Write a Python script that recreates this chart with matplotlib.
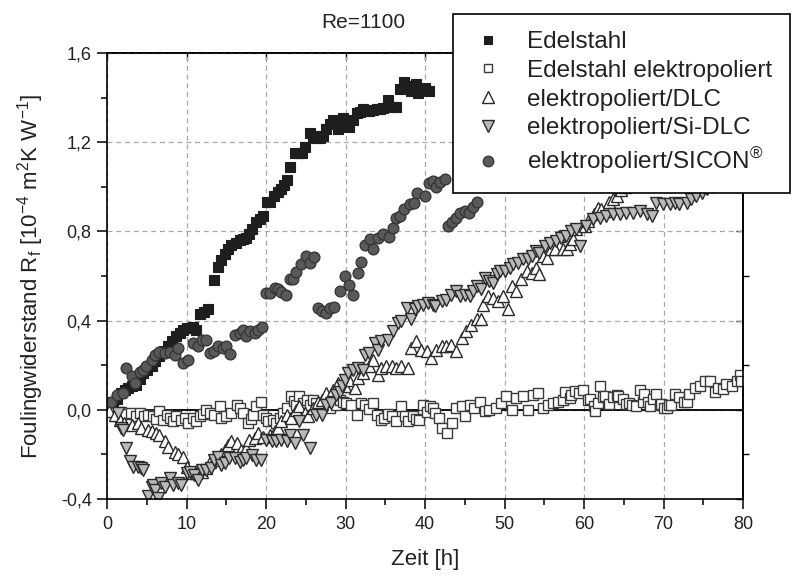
import matplotlib
matplotlib.use("Agg")
import matplotlib.pyplot as plt
from matplotlib.ticker import MultipleLocator, FixedLocator, FuncFormatter
from matplotlib.lines import Line2D

plt.rcParams['font.family'] = ['Liberation Sans', 'DejaVu Sans']
plt.rcParams['mathtext.default'] = 'regular'

# --- Edelstahl (stainless steel) ---
es_t = [0.3, 0.8, 1.3, 1.8, 2.3, 2.7, 3.2, 3.7, 4.1, 4.5, 5.0, 5.6, 6.1, 6.6, 7.2, 7.7,
        8.2, 8.7, 9.2, 9.6, 10.0, 10.4, 10.8, 11.2, 11.7, 12.2, 12.7, 13.5, 14.0, 14.4,
        14.8, 15.2, 15.6, 16.2, 16.7, 17.1, 17.5, 17.9, 18.2, 18.8, 19.2, 19.6, 20.1,
        20.5, 21.0, 21.5, 21.9, 22.3, 22.6, 23.0, 23.6, 24.1, 24.5, 24.9, 25.5, 25.9,
        26.3, 26.8, 27.2, 27.6, 28.0, 28.4, 29.1, 29.7, 30.1, 30.5, 31.0, 31.4, 31.8,
        32.2, 32.6, 33.0, 33.5, 33.9, 34.3, 34.7, 35.3, 35.8, 36.4, 36.8, 37.4, 37.9,
        38.3, 38.9, 39.1, 39.6, 40.0, 40.5]
es_r = [0.02, 0.035, 0.05, 0.075, 0.09, 0.098, 0.105, 0.11, 0.14, 0.165, 0.18, 0.195,
        0.22, 0.24, 0.265, 0.285, 0.31, 0.33, 0.345, 0.36, 0.365, 0.367, 0.37, 0.36,
        0.43, 0.44, 0.45, 0.58, 0.64, 0.67, 0.70, 0.72, 0.74, 0.75, 0.76, 0.765, 0.77,
        0.79, 0.81, 0.84, 0.855, 0.87, 0.93, 0.93, 0.96, 0.975, 0.99, 1.01, 1.03, 1.09,
        1.15, 1.15, 1.15, 1.18, 1.24, 1.23, 1.22, 1.22, 1.23, 1.26, 1.28, 1.30, 1.26,
        1.31, 1.29, 1.27, 1.30, 1.33, 1.335, 1.35, 1.34, 1.34, 1.345, 1.35, 1.35, 1.355,
        1.39, 1.36, 1.36, 1.44, 1.47, 1.45, 1.43, 1.46, 1.42, 1.44, 1.445, 1.43]

# --- Edelstahl elektropoliert ---
ep_t = [0.3, 0.8, 1.3, 1.8, 2.3, 3.06, 3.6, 4.1, 4.6, 5.2, 5.8, 6.2, 6.6, 7.0, 7.5, 7.9,
        8.3, 8.7, 9.35, 9.8, 10.2, 10.8, 11.2, 11.65, 12.1, 12.5, 12.9, 13.5, 14.2, 14.4,
        15.0, 15.6, 16.3, 16.7, 17.1, 17.7, 18.1, 18.4, 18.8, 19.4, 19.6, 20.0, 20.25,
        20.9, 21.3, 21.7, 22.1, 22.6, 23.2, 23.5, 23.8, 24.2, 24.7, 25.1, 25.5, 25.9,
        26.3, 27.0, 27.6, 28.0, 28.4, 28.8, 29.3, 29.7, 30.1, 30.7, 31.4, 32.0, 32.5,
        33.0, 33.5, 33.9, 34.5, 34.9, 35.4, 35.8, 36.4, 37.0, 37.5, 37.9, 38.5, 38.9,
        39.3, 39.7, 40.2, 40.6, 41.0, 41.2, 41.8, 42.2, 42.8, 43.4, 43.9, 44.6, 45.0,
        45.6, 46.2, 46.9, 47.5, 48.1, 48.9, 49.6, 50.2, 50.9, 51.5, 52.3, 53.0, 53.6,
        54.2, 54.8, 55.5, 56.1, 56.7, 57.4, 57.6, 58.2, 58.4, 58.9, 59.4, 59.9, 60.5,
        60.7, 61.3, 61.4, 61.8, 62.0, 62.4, 62.6, 63.2, 63.6, 64.1, 64.3, 64.9, 65.3,
        65.7, 66.1, 66.6, 67.0, 67.4, 67.6, 68.0, 68.3, 68.7, 69.0, 69.5, 69.7, 70.1,
        70.4, 70.7, 71.0, 71.4, 72.0, 72.6, 72.9, 73.2, 73.9, 74.6, 75.2, 75.8, 76.5,
        76.9, 77.5, 77.9, 78.6, 79.2, 79.6, 79.8]
ep_r = [0.0, -0.01, -0.03, -0.01, -0.02, -0.015, -0.03, -0.015, -0.03, -0.022, -0.03,
        -0.04, -0.007, -0.045, -0.025, -0.037, -0.05, -0.03, -0.045, -0.035, -0.06,
        -0.037, -0.05, -0.03, -0.02, 0.0, -0.015, -0.022, 0.015, -0.037, -0.03, -0.015,
        0.022, 0.01, -0.015, -0.06, -0.04, -0.022, 0.015, 0.037, -0.022, -0.037, -0.052,
        -0.045, -0.06, -0.037, -0.015, 0.007, 0.06, 0.04, 0.022, 0.06, 0.03, 0.045, 0.02,
        0.045, 0.03, 0.015, 0.022, 0.01, 0.037, 0.02, 0.045, 0.035, 0.03, 0.022, -0.022,
        0.03, 0.02, 0.005, 0.03, -0.022, -0.045, -0.037, -0.02, -0.03, -0.052, 0.015,
        -0.03, -0.052, -0.03, -0.04, -0.045, 0.022, -0.01, 0.015, 0.007, -0.015, -0.037,
        -0.082, -0.105, -0.06, 0.007, 0.015, -0.03, 0.022, 0.01, 0.037, -0.007, 0.0,
        0.007, 0.03, 0.06, 0.0, 0.052, 0.06, 0.0, 0.067, 0.075, 0.007, 0.022, 0.03,
        0.037, 0.045, 0.08, 0.052, 0.065, 0.085, 0.075, 0.087, 0.045, 0.05, 0.015,
        -0.007, 0.03, 0.105, 0.057, 0.06, 0.027, 0.057, 0.067, 0.064, 0.05, 0.027, 0.03,
        0.02, 0.015, 0.087, 0.037, 0.072, 0.034, 0.015, 0.05, 0.072, 0.022, 0.027, 0.01,
        0.007, 0.02, 0.022, 0.072, 0.057, 0.035, 0.037, 0.072, 0.1, 0.107, 0.13, 0.13,
        0.08, 0.1, 0.094, 0.117, 0.107, 0.13, 0.155, 0.13]

# --- elektropoliert/DLC ---
dl_t = [0.3, 1.0, 1.6, 2.2, 3.1, 3.9, 4.3, 5.2, 5.6, 6.2, 6.6, 7.3, 7.7, 8.5, 8.9, 9.6,
        10.0, 10.6, 11.2, 11.9, 12.5, 12.9, 13.5, 14.4, 14.8, 15.2, 15.6, 16.3, 16.9,
        17.5, 17.9, 18.6, 19.0, 19.6, 20.5, 21.1, 21.5, 21.9, 22.6, 23.2, 23.8, 24.2,
        24.9, 25.3, 25.9, 26.5, 27.0, 27.6, 28.4, 29.1, 29.9, 30.5, 31.2, 31.6, 32.2,
        33.0, 33.5, 34.1, 34.5, 35.1, 35.8, 36.4, 37.0, 37.9, 38.3, 38.9, 39.5, 40.2,
        40.8, 41.4, 42.1, 42.7, 43.3, 43.9, 44.6, 45.2, 45.8, 46.5, 47.1, 47.3, 47.9,
        48.6, 49.2, 49.8, 50.4, 50.9, 51.5, 52.1, 52.8, 53.4, 54.0, 54.4, 54.8, 55.3,
        55.9, 56.3, 56.9, 57.4, 57.8, 58.2, 58.6, 59.0, 60.1, 60.5, 61.3, 61.8, 62.2,
        62.8, 63.2, 63.6, 64.1, 64.6, 65.2]
dl_r = [-0.007, -0.022, -0.045, -0.06, -0.067, -0.06, -0.082, -0.09, -0.097, -0.105,
        -0.112, -0.142, -0.165, -0.187, -0.2, -0.21, -0.255, -0.285, -0.285, -0.277,
        -0.262, -0.232, -0.225, -0.2, -0.18, -0.157, -0.142, -0.15, -0.18, -0.172,
        -0.135, -0.127, -0.105, -0.12, -0.112, -0.097, -0.082, -0.052, -0.022, -0.037,
        0.0, 0.015, -0.015, -0.03, 0.007, 0.037, 0.045, 0.075, 0.09, 0.12, 0.105, 0.135,
        0.097, 0.142, 0.165, 0.195, 0.225, 0.157, 0.187, 0.195, 0.195, 0.187, 0.195,
        0.187, 0.277, 0.307, 0.27, 0.262, 0.232, 0.27, 0.285, 0.285, 0.292, 0.262,
        0.322, 0.352, 0.382, 0.405, 0.405, 0.472, 0.51, 0.502, 0.487, 0.51, 0.45, 0.555,
        0.532, 0.585, 0.622, 0.615, 0.637, 0.607, 0.69, 0.682, 0.72, 0.72, 0.78, 0.72,
        0.72, 0.742, 0.764, 0.81, 0.825, 0.846, 0.876, 0.906, 0.9, 0.89, 0.93, 0.944,
        0.96, 0.985, 1.0]

# --- elektropoliert/Si-DLC ---
sd_t = [1.4, 1.8, 2.0, 2.4, 2.85, 3.3, 3.9, 4.3, 4.5, 5.2, 5.6, 5.8, 6.0, 6.4, 6.8, 7.3,
        7.9, 8.3, 8.9, 9.35, 10.0, 10.4, 11.0, 11.4, 11.9, 12.5, 13.1, 13.5, 14.0, 14.4,
        14.8, 15.4, 16.1, 16.7, 17.1, 17.5, 18.2, 18.8, 19.4, 20.0, 20.7, 21.3, 21.9,
        22.6, 23.0, 23.6, 24.2, 24.65, 25.5, 26.3, 27.0, 27.6, 28.2, 28.8, 29.3, 29.5,
        29.9, 30.3, 30.9, 31.6, 32.2, 32.4, 33.0, 33.7, 34.1, 34.5, 35.3, 36.0, 36.6,
        37.0, 37.7, 38.3, 38.7, 39.1, 39.7, 40.4, 41.0, 41.3, 42.1, 42.7, 43.3, 43.9,
        44.4, 45.0, 45.6, 46.0, 46.5, 47.1, 47.5, 48.1, 48.6, 49.0, 49.4, 50.0, 50.65,
        51.1, 51.7, 52.3, 52.9, 53.4, 54.0, 54.4, 55.1, 55.7, 56.5, 57.1, 57.7, 58.4,
        59.0, 59.5, 60.3, 61.1, 62.0, 62.8, 63.6, 64.5, 65.3, 66.2, 67.0, 67.9, 68.5,
        69.1, 69.9, 70.8, 71.4, 72.0, 72.9, 73.5, 74.1, 74.8, 75.5, 76.2]
sd_r = [-0.015, -0.082, -0.09, -0.17, -0.23, -0.255, -0.255, -0.262, -0.27, -0.385,
        -0.345, -0.337, -0.36, -0.397, -0.33, -0.345, -0.307, -0.337, -0.33, -0.337,
        -0.285, -0.277, -0.292, -0.315, -0.27, -0.27, -0.262, -0.225, -0.21, -0.247,
        -0.24, -0.217, -0.217, -0.232, -0.225, -0.217, -0.202, -0.225, -0.225, -0.135,
        -0.142, -0.142, -0.135, -0.142, -0.112, -0.15, -0.052, -0.112, -0.172, -0.022,
        -0.022, 0.022, 0.03, 0.067, 0.082, 0.105, 0.135, 0.165, 0.18, 0.187, 0.18,
        0.247, 0.255, 0.30, 0.27, 0.307, 0.315, 0.352, 0.39, 0.397, 0.457, 0.405, 0.45,
        0.465, 0.472, 0.48, 0.472, 0.465, 0.487, 0.494, 0.517, 0.532, 0.51, 0.517, 0.51,
        0.532, 0.555, 0.54, 0.592, 0.577, 0.57, 0.607, 0.622, 0.622, 0.637, 0.652, 0.66,
        0.674, 0.674, 0.69, 0.712, 0.705, 0.734, 0.75, 0.757, 0.772, 0.78, 0.80, 0.81,
        0.733, 0.825, 0.855, 0.862, 0.87, 0.877, 0.877, 0.884, 0.884, 0.891, 0.877,
        0.869, 0.929, 0.921, 0.921, 0.929, 0.921, 0.929, 0.944, 0.959, 0.974, 0.99, 1.0]

# --- elektropoliert/SICON ---
sc_t = [0.55, 1.2, 2.0, 2.4, 3.1, 3.5, 4.1, 4.5, 4.95, 5.6, 6.0, 6.6, 7.3, 7.9, 8.5, 8.9,
        9.6, 10.2, 10.8, 11.4, 11.9, 12.5, 12.9, 13.5, 14.0, 14.6, 15.0, 15.5, 16.1,
        16.7, 17.1, 17.5, 18.0, 18.6, 19.0, 19.5, 20.05, 20.5, 21.1, 21.5, 21.9, 22.5,
        23.0, 23.4, 23.8, 24.45, 25.0, 25.5, 26.0, 26.5, 27.0, 27.5, 28.0, 28.5, 29.3,
        29.9, 30.4, 30.9, 31.6, 32.0, 32.5, 33.1, 33.5, 34.1, 34.7, 35.5, 36.0, 36.4,
        36.9, 37.4, 38.1, 38.6, 39.0, 40.0, 40.5, 41.0, 41.4, 41.9, 42.5, 42.9, 43.4,
        43.9, 44.45, 45.0, 45.5, 46.0, 46.5]
sc_r = [0.037, 0.067, 0.075, 0.187, 0.15, 0.12, 0.17, 0.18, 0.195, 0.225, 0.247, 0.26,
        0.255, 0.26, 0.247, 0.277, 0.21, 0.225, 0.30, 0.285, 0.315, 0.315, 0.255, 0.262,
        0.285, 0.277, 0.285, 0.252, 0.337, 0.345, 0.36, 0.33, 0.352, 0.345, 0.36, 0.372,
        0.525, 0.525, 0.547, 0.54, 0.53, 0.517, 0.587, 0.587, 0.62, 0.652, 0.69, 0.66,
        0.686, 0.457, 0.442, 0.435, 0.457, 0.462, 0.532, 0.60, 0.56, 0.517, 0.614,
        0.662, 0.737, 0.767, 0.722, 0.772, 0.787, 0.776, 0.817, 0.862, 0.869, 0.899,
        0.921, 0.929, 0.974, 0.959, 1.019, 1.026, 1.0, 1.02, 1.037, 0.824, 0.842, 0.862,
        0.881, 0.891, 0.884, 0.911, 0.933]

labels = ["Edelstahl", "Edelstahl elektropoliert", "elektropoliert/DLC",
          "elektropoliert/Si-DLC", "elektropoliert/SICON$^{®}$"]
x_ticks = [0, 10, 20, 30, 40, 50, 60, 70, 80]
y_ticks = [-0.4, 0.0, 0.4, 0.8, 1.2, 1.6]

W, H = 796, 575
fig = plt.figure(figsize=(W / 100, H / 100), dpi=100)
ax = fig.add_axes([107 / W, 1 - 499 / H, (743 - 107) / W, (499 - 53) / H])

edge = '#2a2a2a'
styles = [
    dict(marker='s', ms=6.8, mfc='#1e1e1e', mec='#1e1e1e', mew=0.8),
    dict(marker='s', ms=6.8, mfc='white', mec='#3a3a3a', mew=1.0),
    dict(marker='^', ms=8.4, mfc='white', mec=edge, mew=1.0),
    dict(marker='v', ms=8.4, mfc='#b9b9b9', mec=edge, mew=1.0),
    dict(marker='o', ms=7.8, mfc='#595959', mec='#333333', mew=0.9),
]
legend_ms = [6.0, 6.2, 8.0, 8.0, 7.6]
series = [(es_t, es_r), (ep_t, ep_r), (dl_t, dl_r), (sd_t, sd_r), (sc_t, sc_r)]

ax.set_axisbelow(True)
ax.grid(True, which='major', color='#a8a8a8', linestyle=(0, (4, 3)), linewidth=0.9)
ax.axhline(0.0, color='black', linewidth=1.3, zorder=1.5)

for (t, r), st in zip(series, styles):
    ax.plot(t, r, linestyle='none', zorder=2, **st)

ax.set_xlim(0, 80)
ax.set_ylim(-0.4, 1.6)
ax.xaxis.set_major_locator(FixedLocator(x_ticks))
ax.yaxis.set_major_locator(FixedLocator(y_ticks))
ax.xaxis.set_minor_locator(MultipleLocator(5))
ax.yaxis.set_minor_locator(MultipleLocator(0.2))
ax.yaxis.set_major_formatter(FuncFormatter(lambda v, p: f"{v:.1f}".replace('.', ',')))
ax.tick_params(which='major', direction='out', length=7, width=1.1, labelsize=13, pad=4,
               top=False, right=False, colors='black', labelcolor='#222222')
ax.tick_params(which='minor', direction='out', length=4.5, width=1.1, top=False, right=False)
ax.tick_params(axis='x', which='major', pad=5)

for s in ax.spines.values():
    s.set_linewidth(1.2)
    s.set_color('black')

# mirrored ticks on top and right
top = ax.secondary_xaxis('top')
top.set_xticks(x_ticks)
top.set_xticklabels([])
top.tick_params(which='major', direction='in', length=5, width=1.0)
top.spines['top'].set_linewidth(1.2)

right = ax.secondary_yaxis('right')
right.set_yticks(y_ticks)
right.set_yticklabels([])
right.yaxis.set_minor_locator(MultipleLocator(0.2))
right.tick_params(which='major', direction='in', length=5, width=1.0)
right.tick_params(which='minor', direction='out', length=4, width=1.0)
right.spines['right'].set_linewidth(1.2)

ax.set_xlabel("Zeit [h]", fontsize=16, labelpad=12, color='#222222')
ax.set_ylabel("Foulingwiderstand R$_f$ [10$^{-4}$ m$^2$K W$^{-1}$]", fontsize=16,
              labelpad=11, color='#222222')

fig.text(363 / W, 1 - 22 / H, "Re=1100", ha='center', va='center', fontsize=15,
         color='#222222')

handles = []
for st, lms in zip(styles, legend_ms):
    hst = dict(st)
    hst['ms'] = lms
    handles.append(Line2D([], [], linestyle='none', **hst))
leg = fig.legend(handles, labels, loc='upper left',
                 bbox_to_anchor=(453 / W, 1 - 14 / H), bbox_transform=fig.transFigure,
                 frameon=True, fancybox=False, edgecolor='black', framealpha=1,
                 fontsize=17.5, borderpad=0.7, handlelength=1.52, handletextpad=0.84,
                 labelspacing=0.28, borderaxespad=0)
leg.get_frame().set_linewidth(1.2)
for txt in leg.get_texts():
    txt.set_color('#222222')

fig.savefig("out.png", dpi=100)
